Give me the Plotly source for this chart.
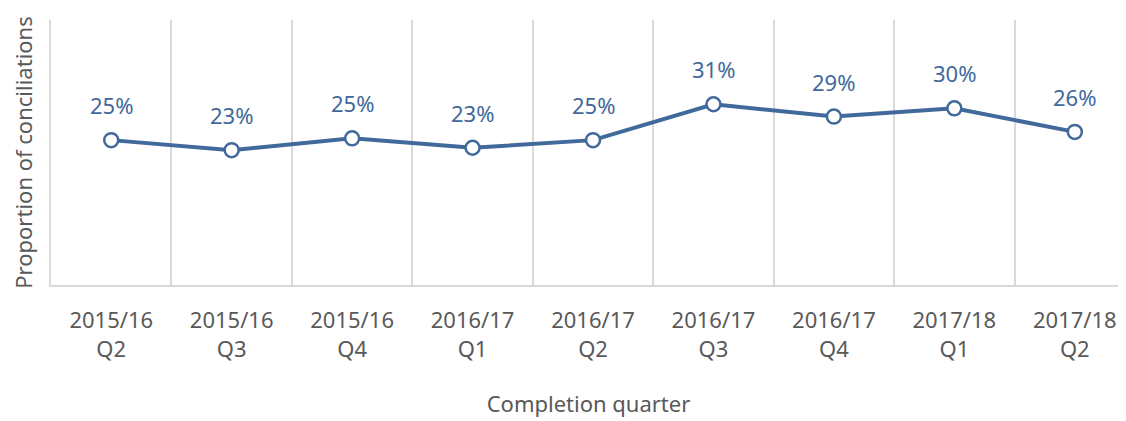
import plotly.graph_objects as go

quarters = ["2015/16<br>Q2", "2015/16<br>Q3", "2015/16<br>Q4", "2016/17<br>Q1", "2016/17<br>Q2",
            "2016/17<br>Q3", "2016/17<br>Q4", "2017/18<br>Q1", "2017/18<br>Q2"]
proportion = [0.246, 0.229, 0.249, 0.233, 0.246, 0.307, 0.286, 0.300, 0.260]
labels = ["25%", "23%", "25%", "23%", "25%", "31%", "29%", "30%", "26%"]

blue = "#41699B"
grey = "#D9D9D9"
text_grey = "#595959"
font_family = "Noto Sans, Open Sans, sans-serif"

fig = go.Figure()
fig.add_trace(go.Scatter(
    x=quarters, y=proportion, mode="lines+markers",
    line=dict(color=blue, width=4),
    marker=dict(size=14, color="white", line=dict(color=blue, width=2.5)),
    hoverinfo="skip", showlegend=False,
))

for q, v, t in zip(quarters, proportion, labels):
    fig.add_annotation(x=q, y=v, text=t, showarrow=False, yshift=35,
                       font=dict(size=22, color=blue, family=font_family))

# page body has an 8px margin; figure sized so it ends at the window edge
fig.update_layout(
    width=1118, height=413,
    margin=dict(l=42.5, r=0, t=12, b=136),
    plot_bgcolor="white", paper_bgcolor="white",
    font=dict(family=font_family, size=22, color=text_grey),
    xaxis=dict(
        type="category", categoryorder="array", categoryarray=quarters,
        range=[-0.5, 8.425], tickson="boundaries", automargin=False,
        showgrid=True, gridcolor=grey, gridwidth=1.5,
        showline=True, linecolor=grey, linewidth=2,
        ticks="", ticklabelstandoff=15,
        tickfont=dict(size=22, color=text_grey),
        title=dict(text="Completion quarter", font=dict(size=22, color=text_grey), standoff=35),
        fixedrange=True,
    ),
    yaxis=dict(
        range=[0, 0.45], showgrid=False, zeroline=False, showticklabels=False,
        showline=True, linecolor=grey, linewidth=1.5, ticks="", automargin=False,
        title=dict(text="Proportion of conciliations", font=dict(size=22, color=text_grey), standoff=14),
        fixedrange=True,
    ),
)

fig.write_html("out.html")
